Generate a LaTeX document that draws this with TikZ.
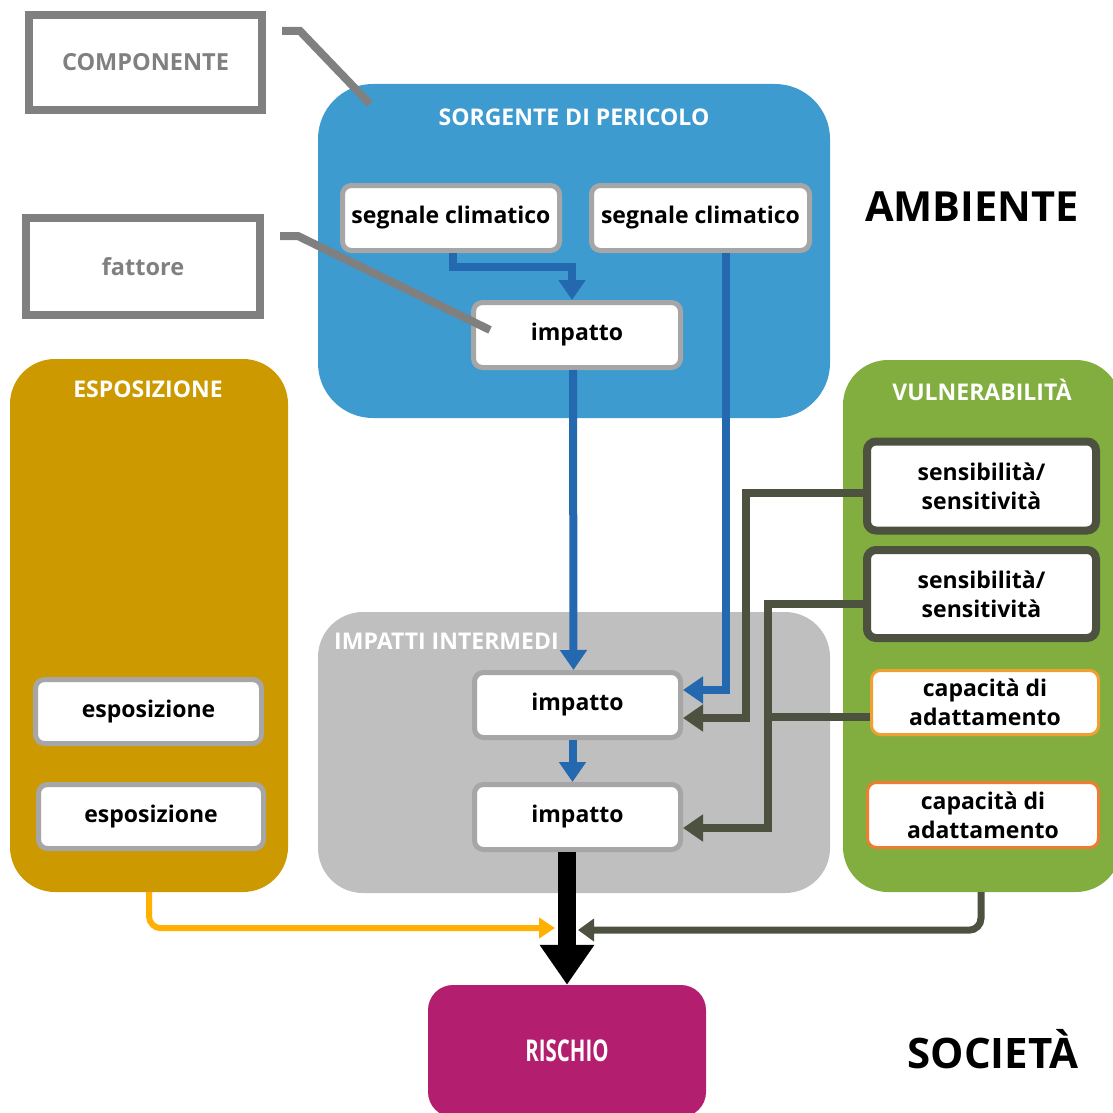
\documentclass[tikz,border=0pt]{standalone}
\usepackage{fontspec}
\setmainfont{Open Sans}
\usepackage{xcolor}
\usepackage{tikz}
\usetikzlibrary{arrows}
\usetikzlibrary{arrows.meta,calc}

\definecolor{cielo}{HTML}{3D9BD0}
\definecolor{bluscuro}{HTML}{2469AF}
\definecolor{ocra}{HTML}{CC9900}
\definecolor{erba}{HTML}{82AE3F}
\definecolor{grigiochiaro}{HTML}{BFBFBF}
\definecolor{cornice}{HTML}{A6A6A6}
\definecolor{oliva}{HTML}{4D5140}
\definecolor{arancio}{HTML}{F0A030}
\definecolor{aranciorosso}{HTML}{ED7D31}
\definecolor{giallo}{HTML}{FFB000}
\definecolor{magenta}{HTML}{B31F6E}
\definecolor{guida}{HTML}{808080}

\begin{document}
\begin{tikzpicture}[line join=miter,x=1pt,y=-1pt,
    gruppo/.style={fill=#1,rounded corners=45pt,inner sep=0pt},
    casella/.style={draw=cornice,line width=5pt,fill=white,rounded corners=9pt,inner sep=0pt,align=center,
        font=\bfseries\fontsize{23}{29}\selectfont},
    titolo/.style={text=white,inner sep=0pt,font=\bfseries\fontsize{23}{26}\selectfont},
    legenda/.style={draw=guida,line width=8pt,text=guida,inner sep=0pt,font=\bfseries\fontsize{23.5}{26}\selectfont},
    freccia/.style={line width=8pt,-{Triangle[width=26pt,length=20pt]}}]
    \useasboundingbox (0,0) rectangle (1113,1113);
    \clip (0,0) rectangle (1113,1113);
    % contenitori
    \node [gruppo=cielo,minimum width=512pt,minimum height=334pt,rounded corners=55pt] (sorgente) at (574,251) {};
    \node [gruppo=ocra,minimum width=278pt,minimum height=533pt] (espo) at (149,625.5) {};
    \node [gruppo=erba,minimum width=278pt,minimum height=532pt] (vuln) at (982,626) {};
    \node [gruppo=grigiochiaro,minimum width=512pt,minimum height=281pt] (intermedi) at (574,752.5) {};
    \node [gruppo=magenta,minimum width=278pt,minimum height=132pt,rounded corners=25pt,text=white,
        font=\bfseries\fontsize{30}{34}\selectfont] (rischio) at (567,1051) {\scalebox{0.68}[1]{RISCHIO}};
    \node [titolo] (tsorgente) at (574,117) {SORGENTE DI PERICOLO};
    \node [titolo] (tespo) at (148,389) {ESPOSIZIONE};
    \node [titolo] (tvuln) at (982,390) {VULNERABILITÀ};
    \node [titolo,anchor=west] (tintermedi) at (334,641) {IMPATTI INTERMEDI};
    % caselle
    \node [casella,minimum width=217pt,minimum height=65pt] (seg1) at (451,218) {segnale climatico};
    \node [casella,minimum width=218pt,minimum height=65pt] (seg2) at (700.5,218) {segnale climatico};
    \node [casella,minimum width=207pt,minimum height=65pt] (imp1) at (577,335) {impatto};
    \node [casella,minimum width=206pt,minimum height=65pt] (imp2) at (577.5,705) {impatto};
    \node [casella,minimum width=206pt,minimum height=65pt] (imp3) at (577.5,817) {impatto};
    \node [casella,minimum width=226pt,minimum height=64pt] (esp1) at (148.5,711.5) {esposizione};
    \node [casella,minimum width=225pt,minimum height=64pt] (esp2) at (151,816.5) {esposizione};
    \node [casella,draw=oliva,line width=8pt,minimum width=229pt,minimum height=89pt] (sens1) at (981.5,486) {sensibilità/\\sensitività};
    \node [casella,draw=oliva,line width=8pt,minimum width=229pt,minimum height=88pt] (sens2) at (981.5,594) {sensibilità/\\sensitività};
    \node [casella,draw=arancio,line width=3pt,minimum width=227pt,minimum height=64pt] (cap1) at (985,702.5) {capacità di\\adattamento};
    \node [casella,draw=aranciorosso,line width=3pt,minimum width=231pt,minimum height=65pt] (cap2) at (983,815) {capacità di\\adattamento};
    % scritte laterali
    \node [inner sep=0pt,font=\bfseries\fontsize{41.5}{46}\selectfont] (ambiente) at (972,207) {AMBIENTE};
    \node [inner sep=0pt,font=\bfseries\fontsize{42}{46}\selectfont] (societa) at (993,1049) {SOCIETÀ};
    % legenda
    \node [legenda,minimum width=233pt,minimum height=95pt] (comp) at (145.5,62.5) {COMPONENTE};
    \node [legenda,minimum width=234pt,minimum height=97pt] (fatt) at (143,266.5) {fattore};
    \coordinate (c1) at (282,31);
    \coordinate (c2) at (370,104);
    \coordinate (f1) at (280,236);
    \coordinate (f2) at (490,330);
    \draw [guida,line width=8pt] (c1) -- ++(18,0) -- (c2);
    \draw [guida,line width=8pt] (f1) -- ++(18,0) -- (f2);
    % frecce blu
    \draw [freccia,bluscuro] ([xshift=2pt]seg1.south) -- ++(0,14) -| ([xshift=-5pt]imp1.north);
    \draw [freccia,bluscuro] ([xshift=-4pt]imp1.south) -- ([xshift=-4pt]imp2.north);
    \draw [freccia,bluscuro] ([xshift=25.5pt]seg2.south) |- ([yshift=15pt]imp2.east);
    \draw [freccia,bluscuro] ([xshift=-5pt]imp2.south) -- ([xshift=-5pt]imp3.north);
    % frecce oliva
    \draw [freccia,oliva] ([yshift=-7pt]sens1.west) -- ++(-117,0) |- ([yshift=-13pt]imp2.east);
    \draw [freccia,oliva] ([yshift=-10pt]sens2.west) -- ++(-95,0) |- ([yshift=-11pt]imp3.east);
    \coordinate (cc) at (772,717);
    \draw [oliva,line width=8pt] ([yshift=-14.5pt]cap1.west) -- (cc);
    % verso il rischio
    \coordinate (ge) at (555,928);
    \coordinate (gv) at (578,930);
    \draw [giallo,line width=6pt,rounded corners=12pt,-{Triangle[width=20pt,length=16pt]}] (espo.south) -- ++(0,36) -- (ge);
    \draw [oliva,line width=7pt,rounded corners=12pt,-{Triangle[width=22pt,length=16pt]}] ([xshift=-1pt]vuln.south) -- ++(0,38) -- (gv);
    \draw [line width=18pt,-{Triangle[width=52pt,length=40pt]}] ([xshift=-10.5pt]imp3.south) -- (rischio.north);
\end{tikzpicture}
\end{document}
